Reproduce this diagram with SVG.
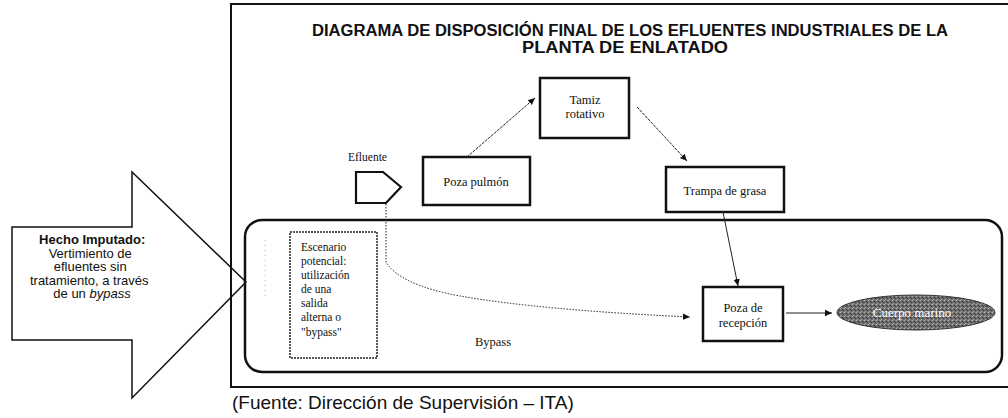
<svg xmlns="http://www.w3.org/2000/svg" width="1008" height="418" viewBox="0 0 1008 418">
<style>
.box{fill:#fff;stroke:#111;stroke-width:2.5}
.ser{font-family:"Liberation Serif","DejaVu Serif",serif;font-size:12.5px;fill:#111}
.sans{font-family:"Liberation Sans",Arial,sans-serif;fill:#111}
.conn{fill:none;stroke:#222;stroke-width:1}
</style>
<defs>
<marker id="ah" markerWidth="8" markerHeight="8" refX="7" refY="4" orient="auto" markerUnits="userSpaceOnUse">
<path d="M0,0.8 L7,4 L0,7.2 Z" fill="#111"/>
</marker>
<pattern id="speck" width="4" height="4" patternUnits="userSpaceOnUse">
<rect width="4" height="4" fill="#6c6c6c"/>
<rect x="0" y="0" width="1" height="1" fill="#bdbdbd"/>
<rect x="2" y="1" width="1" height="1" fill="#333"/>
<rect x="1" y="3" width="1" height="1" fill="#a8a8a8"/>
<rect x="3" y="2" width="1" height="1" fill="#454545"/>
<rect x="3" y="0" width="1" height="1" fill="#8a8a8a"/>
</pattern>
</defs>
<rect width="1008" height="418" fill="#fff"/>

<g id="frame">
<rect x="231" y="4" width="790" height="383" fill="none" stroke="#111" stroke-width="2"/>
<text class="sans" x="630" y="36" font-size="16" font-weight="bold" text-anchor="middle" textLength="636" lengthAdjust="spacingAndGlyphs">DIAGRAMA DE DISPOSICIÓN FINAL DE LOS EFLUENTES INDUSTRIALES DE LA</text>
<text class="sans" x="625" y="53" font-size="16" font-weight="bold" text-anchor="middle" textLength="206" lengthAdjust="spacingAndGlyphs">PLANTA DE ENLATADO</text>
</g>

<g id="bypass-zone">
<rect x="245" y="220" width="757" height="152" rx="17" ry="17" fill="none" stroke="#111" stroke-width="2.5"/>
<line x1="265" y1="240" x2="265" y2="298" stroke="#bbb" stroke-width="1" stroke-dasharray="1,4"/>
<text class="ser" x="493" y="346" text-anchor="middle">Bypass</text>
</g>

<g id="hecho-imputado">
<path d="M12,227 H132 V172 L246,282 L132,398 V340 H12 Z" fill="none" stroke="#111" stroke-width="1.5"/>
<text class="sans" font-size="13" text-anchor="middle">
<tspan x="94" y="244" font-weight="bold">Hecho Imputado:</tspan>
<tspan x="92" y="258">Vertimiento de</tspan>
<tspan x="92" y="271">efluentes sin</tspan>
<tspan x="91" y="285">tratamiento, a través</tspan>
<tspan x="92" y="298">de un <tspan font-style="italic">bypass</tspan></tspan>
</text>
</g>

<g id="escenario">
<rect x="290" y="232" width="87" height="126" fill="none" stroke="#222" stroke-width="1.5" stroke-dasharray="2,1"/>
<text class="ser" style="font-size:11.5px">
<tspan x="301" y="251">Escenario</tspan>
<tspan x="301" y="265">potencial:</tspan>
<tspan x="301" y="279">utilización</tspan>
<tspan x="301" y="293">de una</tspan>
<tspan x="301" y="307">salida</tspan>
<tspan x="301" y="321">alterna o</tspan>
<tspan x="301" y="336">"bypass"</tspan>
</text>
</g>

<g id="efluente">
<path d="M356,172 H383 L401,187 L386,203 H356 Z" fill="#fff" stroke="#111" stroke-width="2.2"/>
<text class="ser" x="348" y="161" style="font-size:11.5px">Efluente</text>
</g>

<g id="poza-pulmon">
<rect class="box" x="423" y="157" width="107" height="48"/>
<text class="ser" x="476" y="186" text-anchor="middle">Poza pulmón</text>
</g>

<g id="tamiz">
<rect class="box" x="540" y="78" width="89" height="60"/>
<text class="ser" text-anchor="middle"><tspan x="585" y="104">Tamiz</tspan><tspan x="585" y="118">rotativo</tspan></text>
</g>

<g id="trampa">
<rect class="box" x="666" y="167" width="118" height="45"/>
<text class="ser" x="725" y="195" text-anchor="middle">Trampa de grasa</text>
</g>

<g id="poza-recepcion">
<rect class="box" x="703" y="287" width="80" height="54"/>
<text class="ser" text-anchor="middle"><tspan x="743" y="312">Poza de</tspan><tspan x="743" y="327">recepción</tspan></text>
</g>

<g id="cuerpo-marino">
<ellipse cx="916" cy="312.5" rx="79" ry="17.5" fill="url(#speck)" stroke="#333" stroke-width="1"/>
<text class="ser" x="912" y="317" text-anchor="middle" style="fill:#fff;font-size:13px">Cuerpo marino</text>
</g>

<g id="connectors">
<line class="conn" x1="467" y1="157" x2="535" y2="98" stroke-dasharray="3,1" marker-end="url(#ah)"/>
<line class="conn" x1="637" y1="107" x2="687" y2="161" stroke-dasharray="3,1" marker-end="url(#ah)"/>
<line class="conn" x1="723" y1="212" x2="738" y2="286" stroke-width="1.2" marker-end="url(#ah)"/>
<line class="conn" x1="786" y1="313" x2="832" y2="313" stroke-width="1.2" marker-end="url(#ah)"/>
<path class="conn" d="M386,204 V262 Q400,285 460,296 Q540,310 690,317" stroke-dasharray="1.5,1.5" marker-end="url(#ah)"/>
</g>

<text class="sans" x="232" y="409" font-size="19">(Fuente: Dirección de Supervisión – ITA)</text>
</svg>
